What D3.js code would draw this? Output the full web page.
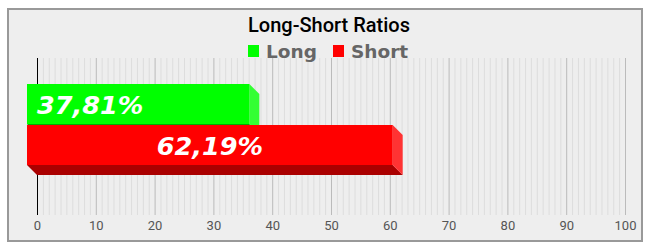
<!DOCTYPE html>
<html><head><meta charset="utf-8">
<script src="https://cdn.jsdelivr.net/npm/d3@7"></script>
<style>html,body{margin:0;padding:0;background:#fff;}svg{display:block;}</style>
</head><body>
<script>
const title = "Long-Short Ratios";
const series = ["Long", "Short"];
const values = [37.81, 62.19];
const labels = ["37,81%", "62,19%"];
const colors = ["#00ff00", "#ff0000"];
const sideColors = ["#33ff33", "#ff3333"];
const bottomColors = ["#00aa00", "#aa0000"];
const tickValues = [0, 10, 20, 30, 40, 50, 60, 70, 80, 90, 100];

const W = 658, H = 250, depth = 10;
const svg = d3.select("body").append("svg").attr("width", W).attr("height", H);

svg.append("rect").attr("x", 8).attr("y", 9).attr("width", 634).attr("height", 232)
  .attr("fill", "#eeeeee").attr("stroke", "#999").attr("stroke-width", 2);

const x = d3.scaleLinear().domain([0, 100]).range([37, 625]);
const gridTop = 58, gridBottom = 215;
const y = d3.scaleBand().domain(series).range([94, 175]).paddingInner(1 / 41);

// minor grid
svg.append("g").selectAll("line").data(d3.range(0, 101, 1)).join("line")
  .attr("x1", d => x(d) + 0.5).attr("x2", d => x(d) + 0.5)
  .attr("y1", gridTop).attr("y2", gridBottom)
  .attr("stroke", d => d % 10 === 0 ? "#bbbbbb" : "#dddddd").attr("stroke-width", 1);
// zero line
svg.append("line").attr("x1", x(0) + 0.5).attr("x2", x(0) + 0.5)
  .attr("y1", gridTop).attr("y2", gridBottom).attr("stroke", "#000");

// axis labels
const axis = d3.axisBottom(x).tickValues(tickValues).tickSize(0).tickPadding(0);
const ag = svg.append("g").attr("transform", `translate(0,${gridBottom + 6})`).call(axis);
ag.select(".domain").remove();
ag.selectAll("text").attr("font-family", "Roboto").attr("font-size", 13).attr("fill", "#555");

// title
svg.append("text").attr("x", 329).attr("y", 32).attr("text-anchor", "middle")
  .attr("font-family", "Roboto").attr("font-weight", 500).attr("font-size", 20).attr("fill", "#000")
  .text(title);

// legend
const lg = svg.append("g");
const legX = [248, 333];
series.forEach((s, i) => {
  lg.append("rect").attr("x", legX[i]).attr("y", 45).attr("width", 11).attr("height", 12).attr("fill", colors[i]);
  lg.append("text").attr("x", legX[i] + 18).attr("y", 57.5).attr("font-family", "DejaVu Sans")
    .attr("font-weight", "bold").attr("font-size", 18.5).attr("fill", "#666").text(s);
});

// 3D bars
const bars = svg.append("g");
series.forEach((s, i) => {
  const x0 = x(0), x1 = x(values[i]);
  const y0 = y(s), y1 = y(s) + y.bandwidth();
  const g = bars.append("g");
  g.append("path").attr("d", `M${x0 - depth},${y1 - depth}L${x1 - depth},${y1 - depth}L${x1},${y1}L${x0},${y1}Z`)
    .attr("fill", bottomColors[i]);
  g.append("path").attr("d", `M${x1 - depth},${y0 - depth}L${x1},${y0}L${x1},${y1}L${x1 - depth},${y1 - depth}Z`)
    .attr("fill", sideColors[i]);
  g.append("rect").attr("x", x0 - depth).attr("y", y0 - depth).attr("width", x1 - x0).attr("height", y1 - y0)
    .attr("fill", colors[i]);
  const cy = (y0 + y1) / 2 - depth;
  const t = g.append("text").attr("y", cy + 9.5)
    .attr("font-family", "DejaVu Sans").attr("font-weight", "bold").attr("font-style", "italic")
    .attr("font-size", 25.5).attr("fill", "#fff").text(labels[i]);
  if (i === 0) t.attr("x", x0).attr("text-anchor", "start");
  else t.attr("x", (x0 + x1) / 2 - depth).attr("text-anchor", "middle");
});
</script>
</body></html>
